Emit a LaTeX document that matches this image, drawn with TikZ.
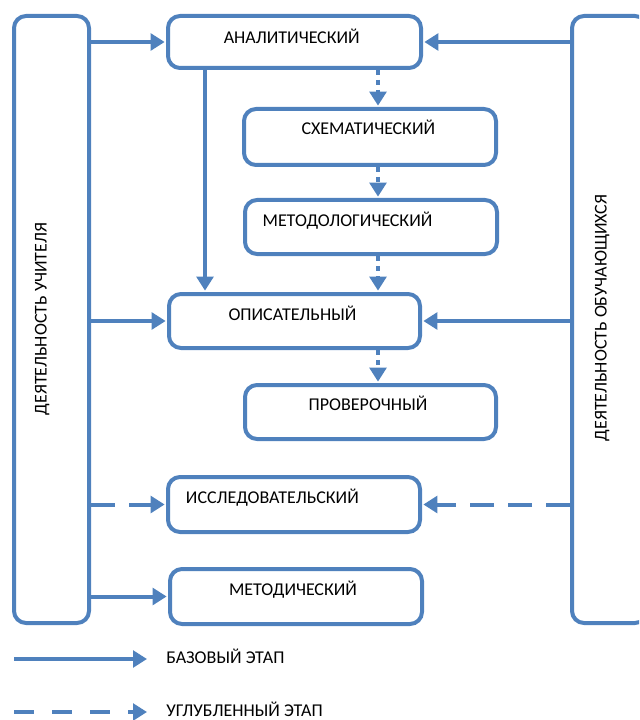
\documentclass[tikz,border=0pt]{standalone}
\usepackage{fontspec}
\setmainfont{Carlito}
\usetikzlibrary{arrows.meta}
\definecolor{bl}{HTML}{4F81BD}
\begin{document}
\begin{tikzpicture}[x=0.75pt,y=-0.75pt,
  box/.style={draw=bl, line width=3pt, rounded corners=9pt, anchor=north west, inner sep=0pt, fill=white},
  txt/.style={anchor=base, inner sep=0pt, font=\fontsize{13.5}{16}\selectfont},
  vtxt/.style={anchor=base, inner sep=0pt, rotate=90, font=\fontsize{13.5}{16}\selectfont},
  ltxt/.style={anchor=base west, inner sep=0pt, font=\fontsize{13.5}{16}\selectfont},
  conn/.style={draw=bl, line width=3pt, -{Triangle[length=10.5pt,width=12.5pt]}, shorten >=1pt},
  solidarr/.style={conn},
  dasharr/.style={conn, dash pattern=on 18pt off 10.5pt},
  dotarr/.style={conn, dash pattern=on 3.75pt off 3.75pt}]
\useasboundingbox (0,0) rectangle (639,720);
\clip (0,0) rectangle (639,720);
% side boxes
\node[box, minimum width=56.25pt, minimum height=455.25pt] (L) at (12,14) {};
\node[box, minimum width=56.25pt, minimum height=455.25pt] (R) at (570,14) {};
% stage boxes
\node[box, minimum width=189.75pt, minimum height=39pt] (A) at (166,14) {};
\node[box, minimum width=189pt, minimum height=42pt] (S) at (242,107) {};
\node[box, minimum width=189pt, minimum height=40.5pt] (M) at (243,198) {};
\node[box, minimum width=188.25pt, minimum height=40.5pt] (O) at (167,292) {};
\node[box, minimum width=188.25pt, minimum height=40.5pt] (P) at (243,383) {};
\node[box, minimum width=189pt, minimum height=41.25pt] (I) at (166,475) {};
\node[box, minimum width=189pt, minimum height=41.25pt] (Md) at (168,567) {};
% texts
\node[txt] (At) at (291.7,43.3) {АНАЛИТИЧЕСКИЙ};
\node[txt] (St) at (368.3,135) {СХЕМАТИЧЕСКИЙ};
\node[txt] (Mt) at (347.5,226.7) {МЕТОДОЛОГИЧЕСКИЙ};
\node[txt] (Ot) at (292.5,320) {ОПИСАТЕЛЬНЫЙ};
\node[txt] (Pt) at (368,410.7) {ПРОВЕРОЧНЫЙ};
\node[txt] (It) at (272.4,503) {ИССЛЕДОВАТЕЛЬСКИЙ};
\node[txt] (Mdt) at (293,595) {МЕТОДИЧЕСКИЙ};
\node[vtxt] (Lt) at (46.7,319) {ДЕЯТЕЛЬНОСТЬ УЧИТЕЛЯ};
\node[vtxt] (Rt) at (606.7,318) {ДЕЯТЕЛЬНОСТЬ ОБУЧАЮЩИХСЯ};
% helper coordinates
\coordinate (vx) at (205,0);
\coordinate (dx) at (378,0);
% connectors
\draw[solidarr] (L.east |- A.west) -- (A.west);
\draw[solidarr] (R.west |- A.east) -- (A.east);
\draw[solidarr] (A.south -| vx) -- (O.north -| vx);
\draw[dotarr] (A.south -| dx) -- (S.north -| dx);
\draw[dotarr] (S.south -| dx) -- (M.north -| dx);
\draw[dotarr] (M.south -| dx) -- (O.north -| dx);
\draw[dotarr] (O.south -| dx) -- (P.north -| dx);
\draw[solidarr] (L.east |- O.west) -- (O.west);
\draw[solidarr] (R.west |- O.east) -- (O.east);
\draw[dasharr] (L.east |- I.west) -- (I.west);
\draw[dasharr] (R.west |- I.east) -- (I.east);
\draw[solidarr] (L.east |- Md.west) -- (Md.west);
% legend
\coordinate (ls1) at (14,659);
\coordinate (le1) at (147,659);
\coordinate (ls2) at (14,712);
\coordinate (le2) at (147,712);
\draw[solidarr, shorten >=0pt] (ls1) -- (le1);
\draw[conn, shorten >=0pt, dash pattern=on 15pt off 13.5pt] (ls2) -- (le2);
\node[ltxt] (B1) at (166,663) {БАЗОВЫЙ ЭТАП};
\node[ltxt] (B2) at (166,716) {УГЛУБЛЕННЫЙ ЭТАП};
\end{tikzpicture}
\end{document}
